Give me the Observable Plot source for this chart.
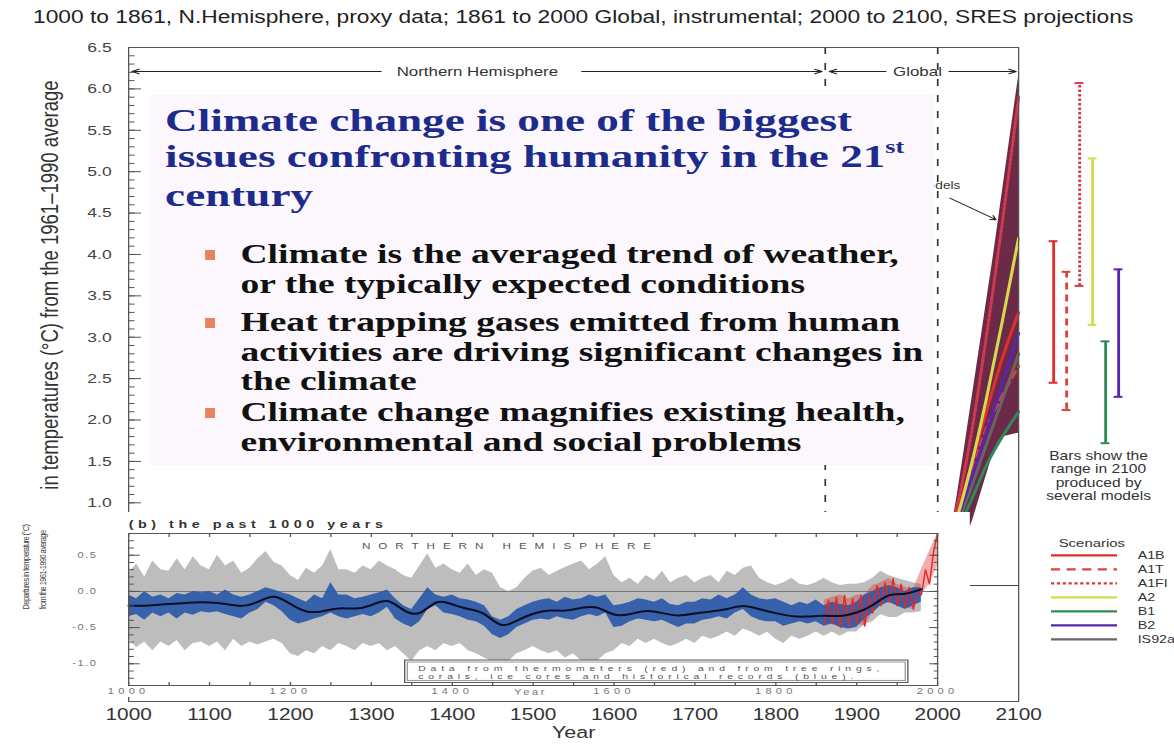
<!DOCTYPE html>
<html><head><meta charset="utf-8">
<script src="https://cdn.jsdelivr.net/npm/d3@7"></script>
<script src="https://cdn.jsdelivr.net/npm/@observablehq/plot@0.6"></script>
<style>
html,body{margin:0;padding:0;background:#fff;overflow:hidden;}
#wrap{position:relative;height:746px;transform-origin:0 0;}
.layer{position:absolute;top:0;}
#title{position:absolute;left:25.4px;top:7px;font:17.5px "Liberation Sans",Arial,sans-serif;color:#222;white-space:nowrap;}
#slide{position:absolute;left:115.4px;top:95px;width:603.8px;height:370px;background:#fcf7fc;}
.head{position:absolute;left:11.5px;top:8px;font:bold 32px/35.5px "Liberation Serif","Times New Roman",serif;color:#1c2b8c;white-space:nowrap;transform:scaleX(1.085);transform-origin:0 0;}
.head sup{font-size:58%;vertical-align:0;position:relative;top:-0.75em;}
.bul{position:absolute;left:69.2px;font:bold 26.5px/29.4px "Liberation Serif","Times New Roman",serif;color:#111;white-space:nowrap;transform:scaleX(1.09);transform-origin:0 0;}
.sq{position:absolute;left:-24.6px;top:9.5px;width:7px;height:10px;background:#e8845a;}
</style></head>
<body>
<div id="wrap">
  <div id="main" class="layer"></div>
  <div id="title">1000 to 1861, N.Hemisphere, proxy data; 1861 to 2000 Global, instrumental; 2000 to 2100, SRES projections</div>
  <div id="slide">
    <div class="head">Climate change is one of the biggest<br>issues confronting humanity in the 21<sup>st</sup><br>century</div>
    <div class="bul" style="top:145.3px"><span class="sq"></span>Climate is the averaged trend of weather,<br>or the typically expected conditions</div>
    <div class="bul" style="top:213.3px"><span class="sq"></span>Heat trapping gases emitted from human<br>activities are driving significant changes in<br>the climate</div>
    <div class="bul" style="top:303.3px"><span class="sq"></span>Climate change magnifies existing health,<br>environmental and social problems</div>
  </div>
  <div id="inset" class="layer" style="top:512px"></div>
  <div id="bars" class="layer"></div>
  <div id="legend" class="layer"></div>
</div>
<script>
// ---------- data ----------
const scenarioNames = ["A1B", "A1T", "A1FI", "A2", "B1", "B2", "IS92a"];
const scenarioColors = ["#e0302b", "#d8453c", "#d23a4c", "#d4da4e", "#2e8a56", "#5a24b0", "#666666"];
const scenarioDashes = [null, "7,5", "2.5,2", null, null, null, null];

const projYears = [2000, 2020, 2040, 2060, 2080, 2100];
const projA1B  = [0.3, 0.75, 1.4, 2.1, 2.75, 3.3];
const projA1T  = [0.3, 0.72, 1.3, 1.9, 2.3, 2.65];
const projA1FI = [0.3, 0.8, 1.75, 3.0, 4.4, 5.9];
const projA2   = [0.3, 0.7, 1.4, 2.25, 3.2, 4.2];
const projB1   = [0.3, 0.6, 1.0, 1.45, 1.8, 2.1];
const projB2   = [0.3, 0.7, 1.25, 1.85, 2.45, 3.05];
const projIS92a = [0.3, 0.65, 1.15, 1.7, 2.25, 2.8];

const fanYears = [2000, 2010, 2020, 2030, 2040, 2050, 2060, 2070, 2080, 2090, 2100];
const fanHigh  = [0.35, 0.5, 0.85, 1.45, 2.1, 2.75, 3.4, 4.05, 4.75, 5.45, 6.14];
const fanLow   = [0.25, 0.35, 0.45, 0.55, 0.7, 1.0, 1.32, 1.63, 1.79, 1.82, 1.84];

const barNames = ["A1B", "A1T", "A1FI", "A2", "B1", "B2"];
const barLow  = [2.45, 2.12, 3.62, 3.15, 1.72, 2.28];
const barHigh = [4.16, 3.79, 6.07, 5.16, 2.95, 3.82];

const breakYears = [1861, 2000];
const yMajor = [1, 1.5, 2, 2.5, 3, 3.5, 4, 4.5, 5, 5.5, 6, 6.5];
const xMajor = [1000, 1100, 1200, 1300, 1400, 1500, 1600, 1700, 1800, 1900, 2000, 2100];

// inset (b): the past 1000 years, decades 1000..1980
const grayHigh = [
  0.25,0.38,0.2,0.42,0.3,0.28,0.45,0.3,0.48,0.35,
  0.3,0.5,0.35,0.42,0.25,0.32,0.45,0.55,0.4,0.35,
  0.22,0.15,0.32,0.25,0.35,0.58,0.3,0.3,0.25,0.35,
  0.3,0.42,0.35,0.3,0.22,0.18,0.35,0.52,0.32,0.38,
  0.3,0.25,0.38,0.22,0.3,0.25,0.05,0.0,0.05,0.18,
  0.28,0.32,0.22,0.28,0.33,0.38,0.42,0.3,0.38,0.48,
  0.22,0.12,0.18,0.1,0.22,0.15,0.28,0.12,0.18,0.22,
  0.12,0.18,0.22,0.12,0.28,0.22,0.32,0.35,0.18,0.12,
  0.08,0.12,0.18,0.1,0.08,0.12,0.18,0.12,0.08,0.1,
  0.1,0.12,0.18,0.28,0.22,0.18,0.15,0.12,0.1];
const grayLow = [
  -0.65,-0.78,-0.7,-0.82,-0.7,-0.76,-0.68,-0.82,-0.72,-0.7,
  -0.76,-0.7,-0.82,-0.66,-0.76,-0.7,-0.74,-0.7,-0.66,-0.72,
  -0.86,-0.9,-0.82,-0.86,-0.76,-0.82,-0.72,-0.76,-0.82,-0.72,
  -0.76,-0.72,-0.82,-0.76,-0.86,-0.97,-0.82,-0.76,-0.82,-0.72,
  -0.76,-0.72,-0.82,-0.86,-0.92,-0.97,-1.02,-0.97,-0.86,-0.82,
  -0.76,-0.82,-0.86,-0.82,-0.92,-0.86,-0.96,-1.02,-0.96,-0.86,
  -0.82,-0.72,-0.76,-0.66,-0.72,-0.66,-0.72,-0.76,-0.72,-0.66,
  -0.72,-0.62,-0.66,-0.62,-0.56,-0.62,-0.52,-0.56,-0.62,-0.56,
  -0.66,-0.72,-0.62,-0.66,-0.62,-0.56,-0.62,-0.56,-0.62,-0.56,
  -0.56,-0.46,-0.42,-0.32,-0.36,-0.36,-0.3,-0.3,-0.28];
const blueHigh = [
  -0.05,-0.1,0.0,-0.08,-0.05,-0.1,-0.03,-0.05,0.0,-0.02,
  0.0,-0.05,0.02,-0.05,-0.08,-0.05,0.0,0.05,0.02,-0.02,
  -0.05,-0.1,-0.15,-0.05,-0.1,0.12,-0.05,-0.05,-0.1,-0.08,
  -0.05,-0.02,0.02,-0.1,-0.2,-0.25,-0.1,0.05,-0.05,-0.08,
  -0.05,-0.1,-0.12,-0.15,-0.2,-0.35,-0.4,-0.35,-0.25,-0.2,
  -0.15,-0.12,-0.1,-0.15,-0.08,-0.12,-0.1,-0.05,-0.08,-0.05,
  -0.2,-0.18,-0.15,-0.1,-0.12,-0.15,-0.1,-0.18,-0.2,-0.15,
  -0.15,-0.1,-0.12,-0.05,-0.1,-0.05,0.05,-0.05,-0.1,-0.12,
  -0.1,-0.15,-0.2,-0.15,-0.18,-0.12,-0.2,-0.15,-0.18,-0.2,
  -0.15,-0.05,0.0,0.05,0.08,0.05,0.0,0.05,0.05];
const blueLow = [
  -0.35,-0.32,-0.4,-0.3,-0.35,-0.3,-0.38,-0.3,-0.33,-0.28,
  -0.3,-0.28,-0.32,-0.35,-0.38,-0.3,-0.25,-0.15,-0.2,-0.28,
  -0.4,-0.45,-0.42,-0.38,-0.35,-0.3,-0.35,-0.38,-0.35,-0.32,
  -0.35,-0.3,-0.22,-0.38,-0.45,-0.5,-0.42,-0.25,-0.2,-0.3,
  -0.32,-0.35,-0.4,-0.42,-0.48,-0.6,-0.65,-0.6,-0.5,-0.45,
  -0.4,-0.38,-0.4,-0.35,-0.38,-0.4,-0.35,-0.32,-0.35,-0.3,
  -0.5,-0.48,-0.42,-0.38,-0.4,-0.42,-0.4,-0.45,-0.5,-0.45,
  -0.45,-0.4,-0.38,-0.35,-0.38,-0.3,-0.25,-0.35,-0.4,-0.42,
  -0.42,-0.48,-0.45,-0.42,-0.45,-0.42,-0.48,-0.45,-0.5,-0.52,
  -0.5,-0.38,-0.3,-0.2,-0.15,-0.2,-0.25,-0.2,-0.15];
const smoothValues = [
  -0.2,-0.2,-0.18,-0.17,-0.15, -0.15,-0.17,-0.22,-0.15,-0.03,
  -0.18,-0.3,-0.28,-0.22,-0.25, -0.2,-0.08,-0.28,-0.35,-0.1,
  -0.18,-0.25,-0.28,-0.52,-0.4, -0.3,-0.25,-0.28,-0.22,-0.2,
  -0.35,-0.32,-0.25,-0.3,-0.35, -0.3,-0.28,-0.25,-0.18,-0.25,
  -0.3,-0.35,-0.35,-0.33,-0.35, -0.3,-0.2,-0.02,-0.05,0.03];
const redHigh = [-0.12,-0.08,-0.05,-0.1,-0.05,-0.05,0.08,0.12,0.18,0.1,0.06,0.02,0.3,0.55,0.8];
const redLow  = [-0.45,-0.45,-0.5,-0.48,-0.45,-0.48,-0.3,-0.2,-0.15,-0.2,-0.22,-0.25,-0.05,0.1,0.35];

const insetYMajor = [-1, -0.5, 0, 0.5];
const insetXMajor = [1000, 1200, 1400, 1600, 1800, 2000];

// ---------- layout ----------
const S = 1.3;                 // the reference is stretched horizontally
const u = v => v / S;
const W = u(1174);
const FONT = '"Liberation Sans", Arial, Helvetica, sans-serif';
const wrap = document.getElementById("wrap");
wrap.style.width = W + "px";
wrap.style.transform = `scaleX(${S})`;
const yDomain = [-1.4, 6.5];

const projValues = [projA1B, projA1T, projA1FI, projA2, projB1, projB2, projIS92a];
const fan = fanYears.map((year, i) => ({year, lo: fanLow[i], hi: fanHigh[i]}));
const drawOrder = [2, 1, 6, 4, 5, 0, 3];
const scenarioLines = drawOrder.map(i => Plot.lineY(
  projYears.map((year, j) => ({year, v: projValues[i][j]})),
  {x: "year", y: "v", stroke: scenarioColors[i], strokeWidth: 2.4,
   strokeDasharray: scenarioDashes[i] || undefined, curve: "monotone-x"}));

const regionY = 6.21;
const regionArrows = [
  {from: 1312, to: 1004, y: regionY}, {from: 1560, to: 1857, y: regionY},
  {from: 1936, to: 1866, y: regionY}, {from: 2014, to: 2097, y: regionY}];
const regionLabels = [{x: 1431, y: regionY, label: "Northern Hemisphere"}, {x: 1975, y: regionY, label: "Global"}];
const modelNote = [{x: 2028, y: 4.83, label: "Several models"}];
const modelArrow = [{x1: 2015, y1: 4.68, x2: 2072, y2: 4.42}];

const mainSvg = Plot.plot({
  width: W, height: 746,
  marginTop: 47, marginBottom: 45, marginLeft: u(128), marginRight: W - u(1018),
  x: {domain: [1000, 2100], label: null},
  y: {domain: yDomain, label: null},
  style: {background: "transparent", fontFamily: FONT, color: "#333", overflow: "visible", maxWidth: "none"},
  marks: [
    Plot.areaY(fan, {x: "year", y1: "lo", y2: "hi", fill: "#6b2a48", curve: "monotone-x"}),
    ...scenarioLines,
    Plot.ruleY([0], {stroke: "#444"}),
    Plot.ruleX(breakYears, {stroke: "#333", strokeWidth: 1.3, strokeDasharray: "7,9"}),
    Plot.arrow(regionArrows, {x1: "from", x2: "to", y1: "y", y2: "y", stroke: "#222", strokeWidth: 1, headLength: 9, headAngle: 45}),
    Plot.text(regionLabels, {x: "x", y: "y", text: "label", fontSize: 13, fill: "#333"}),
    Plot.text(modelNote, {x: "x", y: "y", text: "label", textAnchor: "end", fontSize: 10.5, fill: "#333"}),
    Plot.arrow(modelArrow, {x1: "x1", y1: "y1", x2: "x2", y2: "y2", stroke: "#222", strokeWidth: 1, headLength: 7}),
    Plot.frame({stroke: "#555"}),
    Plot.axisY(yMajor, {anchor: "left", tickSize: -10, tickFormat: () => "", label: null, stroke: "#555"}),
    Plot.axisY(d3.range(10, 66).map(d => d / 10), {anchor: "left", tickSize: -5, tickFormat: () => "", label: null, stroke: "#555"}),
    Plot.axisY(yMajor, {anchor: "left", tickSize: 0, tickPadding: 13, tickFormat: d => d.toFixed(1), fontSize: 13.5, fill: "#444", label: null}),
    Plot.axisX(xMajor, {anchor: "bottom", tickSize: 0, tickPadding: 7, tickFormat: d => String(d), fontSize: 16, fill: "#333", label: null}),
    Plot.text(["in temperatures (°C) from the 1961–1990 average"], {frameAnchor: "top-left", dx: u(40) - u(128), dy: 80 - 47, rotate: -90, textAnchor: "end", fontSize: 18.5, fill: "#333"}),
    Plot.text(["Year"], {frameAnchor: "bottom", dy: 37, fontSize: 16.5, fill: "#333"})
  ]
});
const mainDiv = document.getElementById("main");
mainDiv.style.width = W + "px";
mainDiv.append(mainSvg);

// ---------- inset ----------
const decades = d3.range(1000, 1981, 10);
const grayData = decades.map((year, i) => ({year, lo: grayLow[i], hi: grayHigh[i]}));
const blueData = decades.map((year, i) => ({year, lo: blueLow[i], hi: blueHigh[i]}));
const smoothData = d3.range(1000, 1981, 20).map((year, i) => ({year, v: smoothValues[i]}));
const redYears = d3.range(1860, 2001, 10);
const redData = redYears.map((year, i) => ({year, lo: redLow[i], hi: redHigh[i]}));
// instrumental trace: each decade's low and high, half a decade apart
const redTrace = redYears.flatMap((year, i) => i < redYears.length - 1
  ? [{year, v: redLow[i]}, {year: year + 5, v: redHigh[i]}] : [{year, v: redHigh[i]}]);
const captionBox = [{x1: 1342, x2: 1964, y1: -1.265, y2: -0.955}];
const captionLines = [
  {x: 1358, v: -1.06, t: "Data from thermometers (red) and from tree rings,"},
  {x: 1358, v: -1.17, t: "corals, ice cores and historical records (blue)."}];
const insetW = u(970);
const insetSvg = Plot.plot({
  width: insetW, height: 185,
  marginLeft: u(128), marginRight: insetW - u(937), marginTop: 21, marginBottom: 12,
  x: {domain: [1000, 2000], label: null},
  y: {domain: [-1.3, 0.8], label: null},
  style: {background: "white", fontFamily: FONT, color: "#555", overflow: "visible", maxWidth: "none"},
  marks: [
    Plot.areaY(grayData, {x: "year", y1: "lo", y2: "hi", fill: "#bdbdbd"}),
    Plot.ruleY([0], {stroke: "#777"}),
    Plot.areaY(redData, {x: "year", y1: "lo", y2: "hi", fill: "#e5332f", fillOpacity: 0.4}),
    Plot.areaY(blueData, {x: "year", y1: "lo", y2: "hi", fill: "#2b59a8", fillOpacity: 0.92}),
    Plot.lineY(redTrace, {x: "year", y: "v", stroke: "#e02a26", strokeWidth: 1.1}),
    Plot.lineY(smoothData, {x: "year", y: "v", stroke: "#0a0f25", strokeWidth: 2, curve: "basis"}),
    Plot.rect(captionBox, {x1: "x1", x2: "x2", y1: "y1", y2: "y2", fill: "white", stroke: "#555"}),
    Plot.rect(captionBox, {x1: "x1", x2: "x2", y1: "y1", y2: "y2", fill: "none", stroke: "#999", inset: 2}),
    Plot.text(captionLines, {x: "x", y: "v", text: "t", textAnchor: "start", fontSize: 8, fill: "#555"}),
    Plot.frame({stroke: "#555"}),
    Plot.axisY(insetYMajor, {anchor: "left", tickSize: -9, tickFormat: () => "", label: null}),
    Plot.axisY(d3.range(-13, 9).map(d => d / 10), {anchor: "left", tickSize: -4.5, tickFormat: () => "", label: null}),
    Plot.axisY(insetYMajor, {anchor: "right", tickSize: -7, tickFormat: () => "", label: null}),
    Plot.axisY(d3.range(-13, 9).map(d => d / 10), {anchor: "right", tickSize: -3.5, tickFormat: () => "", label: null}),
    Plot.axisY(insetYMajor, {anchor: "left", tickSize: 0, tickPadding: 24, tickFormat: d => d.toFixed(1), fontSize: 8.5, fill: "#777", label: null}),
    Plot.axisX(d3.range(1000, 2001, 50), {anchor: "top", tickSize: -3, tickFormat: () => "", label: null}),
    Plot.axisX(d3.range(1000, 2001, 50), {anchor: "bottom", tickSize: -3, tickFormat: () => "", label: null}),
    Plot.axisX(insetXMajor, {anchor: "bottom", tickSize: 0, tickPadding: 2, tickFormat: d => String(d), fontSize: 8.5, fill: "#777", label: null}),
    Plot.text(["(b) the past 1000 years"], {frameAnchor: "top-left", dy: -13, textAnchor: "start", fontSize: 11, fontWeight: "bold", fill: "#333"}),
    Plot.text([{x: 1472, y: 0.63, t: "NORTHERN HEMISPHERE"}], {x: "x", y: "y", text: "t", fontSize: 9, fill: "#555"}),
    Plot.text(["Departures in temperature (°C)\nfrom the 1961-1990 average"], {frameAnchor: "left", dx: u(31) - u(128), rotate: -90, fontSize: 7.5, lineHeight: 1.8, fill: "#444"}),
    Plot.text([{x: 1497}], {x: "x", frameAnchor: "bottom", dy: 10, text: () => "Year", fontSize: 8.5, fill: "#777"})
  ]
});
function spacing(svg, prefix, ls) {
  svg.querySelectorAll("text").forEach(t => {
    if (t.textContent.startsWith(prefix)) t.setAttribute("letter-spacing", ls);
  });
}
spacing(insetSvg, "Data from", 3.7);
spacing(insetSvg, "corals,", 3.7);
spacing(insetSvg, "NORTHERN", 6.1);
spacing(insetSvg, "(b) the past", 3.5);
spacing(insetSvg, "Departures", -0.6);
spacing(insetSvg, "Year", 2);
insetSvg.querySelectorAll('g[aria-label="y-axis tick label"] text').forEach(t => t.setAttribute("letter-spacing", 1.2));
insetSvg.querySelectorAll('g[aria-label="x-axis tick label"] text').forEach(t => t.setAttribute("letter-spacing", 3.3));
const insetDiv = document.getElementById("inset");
insetDiv.style.width = insetW + "px";
insetDiv.append(insetSvg);

// ---------- range bars at 2100 ----------
const bars = barNames.map((name, i) => ({name, lo: barLow[i], hi: barHigh[i]}));
const barsW = u(1127) - u(1044);
const barsSvg = Plot.plot({
  width: barsW, height: 746,
  marginTop: 47, marginBottom: 45, marginLeft: 0, marginRight: 0,
  x: {type: "band", domain: barNames, padding: 0, axis: null},
  y: {domain: yDomain, axis: null},
  style: {background: "transparent", fontFamily: FONT, color: "#333", overflow: "visible", maxWidth: "none"},
  marks: [
    ...bars.map((d, i) => Plot.ruleX([d], {x: "name", y1: "lo", y2: "hi", stroke: scenarioColors[i], strokeWidth: 2.2, strokeDasharray: scenarioDashes[i] || undefined})),
    ...bars.map((d, i) => Plot.tickY([d], {x: "name", y: "lo", stroke: scenarioColors[i], strokeWidth: 2, insetLeft: 1.6, insetRight: 1.6})),
    ...bars.map((d, i) => Plot.tickY([d], {x: "name", y: "hi", stroke: scenarioColors[i], strokeWidth: 2, insetLeft: 1.6, insetRight: 1.6})),
    Plot.text(["Bars show the\nrange in 2100\nproduced by\nseveral models"], {frameAnchor: "top", dx: u(1098) - u(1085.5), dy: 450 - 47, lineAnchor: "top", fontSize: 12, lineHeight: 1.12, fill: "#333"})
  ]
});
const barsDiv = document.getElementById("bars");
barsDiv.style.left = u(1044) + "px";
barsDiv.style.width = barsW + "px";
barsDiv.append(barsSvg);

// ---------- scenario legend ----------
const legendItems = scenarioNames.map((name, i) => ({name, color: scenarioColors[i], dash: scenarioDashes[i]}));
const legendW = u(1174) - u(1040);
const legendSvg = Plot.plot({
  width: legendW, height: 746,
  marginLeft: u(1051) - u(1040), marginRight: u(1174) - u(1117), marginTop: 546, marginBottom: 746 - 647,
  x: {domain: [0, 1], axis: null},
  y: {type: "band", domain: scenarioNames, padding: 0, axis: null},
  style: {background: "transparent", fontFamily: FONT, color: "#333", overflow: "visible", maxWidth: "none"},
  marks: [
    ...legendItems.map(d => Plot.ruleY([d], {y: "name", x1: 0, x2: 1, stroke: d.color, strokeWidth: 2.2, strokeDasharray: d.dash || undefined})),
    Plot.text(legendItems, {y: "name", x: 1, text: "name", dx: u(20), textAnchor: "start", fontSize: 11, fill: "#333"}),
    Plot.text(["Scenarios"], {frameAnchor: "top-left", dx: u(7), dy: -8, textAnchor: "start", fontSize: 11.5, fill: "#333"})
  ]
});
const legendDiv = document.getElementById("legend");
legendDiv.style.left = u(1040) + "px";
legendDiv.style.width = legendW + "px";
legendDiv.append(legendSvg);
</script>
</body></html>
